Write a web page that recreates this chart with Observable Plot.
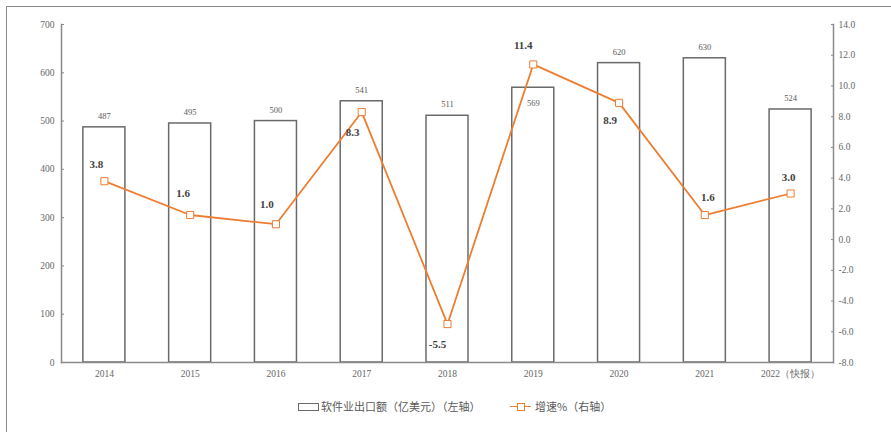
<!DOCTYPE html>
<html><head><meta charset="utf-8">
<script src="https://cdn.jsdelivr.net/npm/d3@7"></script>
<script src="https://cdn.jsdelivr.net/npm/@observablehq/plot@0.6"></script>
<style>
body{margin:0;background:#fff;}
#wrap{position:relative;width:891px;height:432px;overflow:hidden;background:#fff;}
#frame{position:absolute;left:6px;top:6px;width:900px;height:440px;border-left:1.5px solid #8a8a8a;border-top:1.5px solid #8a8a8a;pointer-events:none;}
#chart{position:absolute;left:0;top:0;}
.lg{position:absolute;font-family:"Noto Sans CJK SC",sans-serif;font-size:11px;color:#595959;line-height:14px;white-space:nowrap;}
.barIcon{position:absolute;left:298px;top:403px;width:19px;height:6px;border:1.5px solid #6a6a6a;background:#fff;}
.lineIcon{position:absolute;left:510px;top:406px;width:21px;height:0;border-top:1.8px solid #ED7D31;}
.lineSq{position:absolute;left:516.5px;top:403px;width:6px;height:6px;border:1px solid #ED7D31;background:#fff;}
</style></head>
<body>
<div id="wrap">
  <div id="chart"></div>
  <div id="frame"></div>
  <div class="barIcon"></div>
  <div class="lg" style="left:321px;top:399px;">软件业出口额（亿美元）（左轴）</div>
  <div class="lineIcon"></div>
  <div class="lineSq"></div>
  <div class="lg" style="left:535px;top:399px;">增速%（右轴）</div>
</div>
<script>
// ---- data ----
const years = ["2014","2015","2016","2017","2018","2019","2020","2021","2022（快报）"];
const exportsUSD = [487,495,500,541,511,569,620,630,524];
const growth = [3.8,1.6,1.0,8.3,-5.5,11.4,8.9,1.6,3.0];
const leftTicks = [0,100,200,300,400,500,600,700];
const rightTicks = [-8,-6,-4,-2,0,2,4,6,8,10,12,14];

// ---- label placement (style) ----
const growthLabelDx = [-8,-7,-9,-9,-10,-10,-9,3,-2];
const growthLabelDy = [-17,-22,-20,20,20,-19,18,-18,-16];
const barLabelInside = [false,false,false,false,false,true,false,false,false];

const rightMin = -8, rightMax = 14, leftMax = 700;
const toLeft = v => (v - rightMin) / (rightMax - rightMin) * leftMax;
const fromLeft = v => v / leftMax * (rightMax - rightMin) + rightMin;

const rows = years.map((y, i) => ({year: y, exp: exportsUSD[i], g: growth[i], gy: toLeft(growth[i]), inside: barLabelInside[i]}));

const axisColor = "#8a8a8a";
const labelMarks = rows.map((r, i) => Plot.text([r], {
  x: "year", y: "gy", text: d => d.g.toFixed(1),
  dx: growthLabelDx[i], dy: growthLabelDy[i],
  fontWeight: "bold", fontFamily: "Liberation Serif", fontSize: 11, fill: "#404040"
}));

const chart = Plot.plot({
  width: 891, height: 432,
  marginLeft: 61, marginRight: 58, marginTop: 24, marginBottom: 70,
  x: {domain: years, paddingInner: 0.51, paddingOuter: 0.255, align: 0.5, round: false},
  y: {domain: [0, 700]},
  style: {fontFamily: "Liberation Serif", fontSize: "9.5px", color: "#666", background: "transparent", overflow: "visible"},
  marks: [
    Plot.barY(rows, {x: "year", y: "exp", fill: "white", stroke: "#6a6a6a", strokeWidth: 1.5}),
    Plot.frame({anchor: "left", stroke: axisColor, strokeWidth: 1.5}),
    Plot.frame({anchor: "right", stroke: axisColor, strokeWidth: 1.5}),
    Plot.frame({anchor: "bottom", stroke: axisColor, strokeWidth: 1.5}),
    Plot.axisY(leftTicks, {anchor: "left", tickSize: -3, tickPadding: 10, label: null, stroke: axisColor, fill: "#666"}),
    Plot.axisY(rightTicks.map(toLeft), {anchor: "right", tickSize: -3, tickPadding: 8, label: null, stroke: axisColor, fill: "#666",
      tickFormat: v => fromLeft(v).toFixed(1)}),
    Plot.axisX({tickSize: 0, tickPadding: 8, label: null, fill: "#666"}),
    Plot.text(rows.filter(d => !d.inside), {x: "year", y: "exp", text: d => String(d.exp), dy: -11, fontSize: 8.5, fill: "#595959"}),
    Plot.text(rows.filter(d => d.inside), {x: "year", y: "exp", text: d => String(d.exp), dy: 16, fontSize: 8.5, fill: "#595959"}),
    Plot.line(rows, {x: "year", y: "gy", stroke: "#ED7D31", strokeWidth: 1.8}),
    Plot.dot(rows, {x: "year", y: "gy", symbol: "square", r: 4, fill: "white", stroke: "#ED7D31", strokeWidth: 1}),
    ...labelMarks
  ]
});
document.getElementById("chart").appendChild(chart);
</script>
</body></html>
